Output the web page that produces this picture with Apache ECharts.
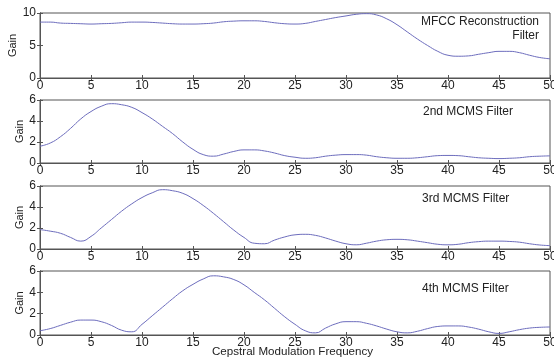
<!DOCTYPE html>
<html>
<head>
<meta charset="utf-8">
<script src="https://cdn.jsdelivr.net/npm/echarts@6/dist/echarts.min.js"></script>
<style>
html,body{margin:0;padding:0;background:#fff;}
#c{width:554px;height:358px;}
</style>
</head>
<body>
<div id="c"></div>
<script>
var freq = [0,1,2,3,4,5,6,7,8,9,10,11,12,13,14,15,16,17,18,19,20,21,22,23,24,25,26,27,28,29,30,31,32,33,34,35,36,37,38,39,40,41,42,43,44,45,46,47,48,49,50];

var mfccGain = [8.6,8.6,8.45,8.4,8.35,8.3,8.35,8.4,8.5,8.6,8.6,8.55,8.45,8.35,8.3,8.3,8.35,8.45,8.65,8.75,8.8,8.8,8.7,8.5,8.35,8.3,8.4,8.7,9.0,9.3,9.55,9.8,9.9,9.7,9.1,8.2,7.1,6.0,5.0,4.1,3.5,3.35,3.4,3.65,3.9,4.1,4.1,3.9,3.5,3.15,2.95];

var mcms2Gain = [1.6,1.9,2.5,3.3,4.2,4.9,5.4,5.65,5.55,5.3,4.8,4.2,3.5,2.8,2.0,1.3,0.8,0.65,0.85,1.1,1.25,1.25,1.15,0.95,0.7,0.55,0.45,0.5,0.65,0.75,0.8,0.8,0.75,0.6,0.5,0.45,0.45,0.5,0.6,0.7,0.72,0.7,0.6,0.5,0.45,0.42,0.45,0.5,0.6,0.65,0.68];

var mcms3Gain = [1.85,1.7,1.5,1.1,0.75,1.2,2.0,2.8,3.6,4.3,4.9,5.35,5.65,5.55,5.3,4.8,4.15,3.4,2.6,1.8,1.1,0.55,0.5,0.85,1.15,1.35,1.4,1.3,1.05,0.75,0.5,0.4,0.55,0.75,0.88,0.92,0.88,0.75,0.6,0.45,0.4,0.45,0.6,0.7,0.75,0.75,0.72,0.65,0.5,0.38,0.32];

var mcms4Gain = [0.4,0.6,0.9,1.2,1.4,1.4,1.25,0.9,0.45,0.3,1.0,1.8,2.6,3.4,4.15,4.75,5.25,5.55,5.45,5.2,4.7,4.0,3.3,2.5,1.7,1.0,0.4,0.2,0.65,1.05,1.25,1.25,1.1,0.85,0.55,0.3,0.2,0.35,0.6,0.8,0.85,0.85,0.75,0.55,0.3,0.15,0.3,0.5,0.65,0.72,0.75];

var panelLabels = [["MFCC Reconstruction","Filter"],["2nd MCMS Filter"],["3rd MCMS Filter"],["4th MCMS Filter"]];
var yMax = [10,6,6,6];
var yStep = [5,2,2,2];
var xTitle = "Cepstral Modulation Frequency";
var yTitle = "Gain";

var seriesData = [mfccGain, mcms2Gain, mcms3Gain, mcms4Gain];

var tops = [13,100,186,271];
var heights = [65,63,63,64];
var nameGaps = [22,15,15,15];
var FONT = "Liberation Sans, Arial, Helvetica, sans-serif";
var axisCol = "#555";

var grids=[], xAxes=[], yAxes=[], series=[], graphics=[];
for (var i=0;i<4;i++){
  grids.push({left:40, right:4, top:tops[i], height:heights[i], show:true, borderColor:axisCol, borderWidth:1, backgroundColor:'#fff', containLabel:false, outerBoundsMode:'none'});
  xAxes.push({gridIndex:i, type:'value', min:0, max:50, interval:5, position:'bottom',
    axisLine:{show:true, lineStyle:{color:axisCol}}, axisTick:{show:true, inside:true, length:3, lineStyle:{color:axisCol}},
    axisLabel:{show:true, color:'#222', fontFamily:FONT, fontSize:12, margin:2, showMaxLabel:true, showMinLabel:true, hideOverlap:false},
    splitLine:{show:false}});
  xAxes.push({gridIndex:i, type:'value', min:0, max:50, interval:5, position:'top',
    axisLine:{show:true, lineStyle:{color:axisCol}}, axisTick:{show:true, inside:true, length:3, lineStyle:{color:axisCol}},
    axisLabel:{show:false}, splitLine:{show:false}});
  yAxes.push({gridIndex:i, type:'value', min:0, max:yMax[i], interval:yStep[i], position:'left',
    axisLine:{show:true, lineStyle:{color:axisCol}}, axisTick:{show:true, inside:true, length:3, lineStyle:{color:axisCol}},
    axisLabel:{show:true, color:'#222', fontFamily:FONT, fontSize:12, margin:4},
    splitLine:{show:false},
    name:yTitle, nameLocation:'middle', nameGap:nameGaps[i], nameRotate:90, nameMoveOverlap:false,
    nameTextStyle:{color:'#222', fontFamily:FONT, fontSize:11}});
  yAxes.push({gridIndex:i, type:'value', min:0, max:yMax[i], interval:yStep[i], position:'right',
    axisLine:{show:true, lineStyle:{color:axisCol}}, axisTick:{show:true, inside:true, length:3, lineStyle:{color:axisCol}},
    axisLabel:{show:false}, splitLine:{show:false}});
  var pts=[];
  for (var k=0;k<freq.length;k++) pts.push([freq[k], seriesData[i][k]]);
  series.push({type:'line', xAxisIndex:2*i, yAxisIndex:2*i, data:pts, smooth:0.5, showSymbol:false, symbol:'none',
    lineStyle:{color:'#6d6dbd', width:1}, animation:false});
}

graphics.push({type:'text', right:15, top:16, style:{text:panelLabels[0][0], font:'12px '+FONT, fill:'#222', textAlign:'right'}});
graphics.push({type:'text', right:15, top:30, style:{text:panelLabels[0][1], font:'12px '+FONT, fill:'#222', textAlign:'right'}});
graphics.push({type:'text', left:423, top:106, style:{text:panelLabels[1][0], font:'12px '+FONT, fill:'#222'}});
graphics.push({type:'text', left:422, top:193, style:{text:panelLabels[2][0], font:'12px '+FONT, fill:'#222'}});
graphics.push({type:'text', left:422, top:283, style:{text:panelLabels[3][0], font:'12px '+FONT, fill:'#222'}});
graphics.push({type:'text', left:212, top:346, style:{text:xTitle, font:'11.6px '+FONT, fill:'#222'}});

var chart = echarts.init(document.getElementById('c'), null, {renderer:'canvas'});
chart.setOption({
  animation:false,
  backgroundColor:'#fff',
  grid:grids, xAxis:xAxes, yAxis:yAxes, series:series, graphic:graphics
});
</script>
</body>
</html>
